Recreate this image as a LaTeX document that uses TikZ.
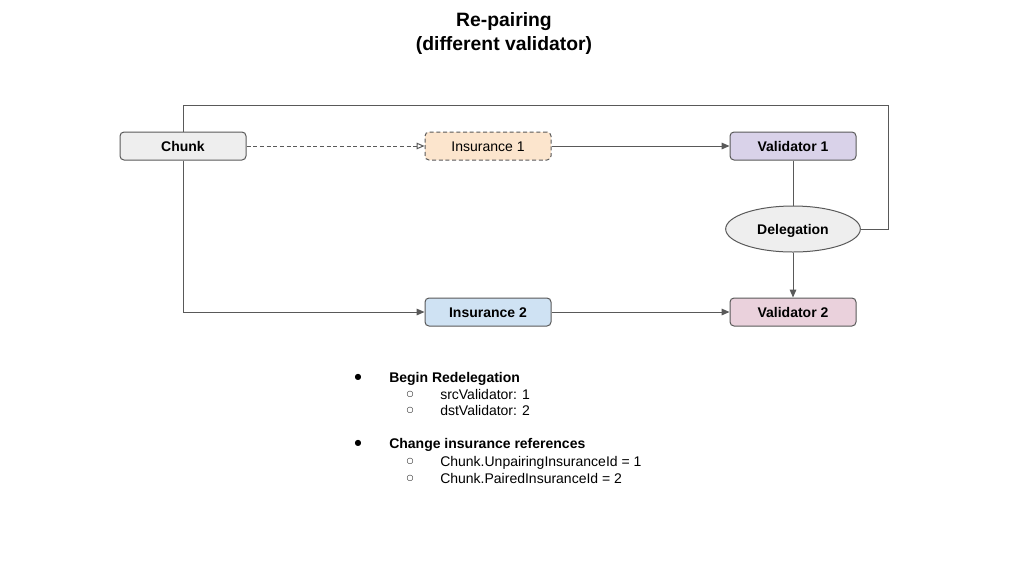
\documentclass[tikz,border=0pt]{standalone}
\usepackage{fontspec}
\setmainfont{Liberation Sans}
\newfontfamily\symfont{DejaVu Sans}
\usetikzlibrary{arrows.meta,shapes.geometric}
\definecolor{linegray}{HTML}{595959}
\definecolor{boxgray}{HTML}{EEEEEE}
\definecolor{peach}{HTML}{FCE5CD}
\definecolor{lavender}{HTML}{D9D2E9}
\definecolor{lightblue}{HTML}{CFE2F3}
\definecolor{pink}{HTML}{EAD1DC}
\tikzset{
  box/.style={draw=linegray, line width=0.75pt, rounded corners=3pt, minimum width=94.5pt, minimum height=21pt, inner sep=0pt, text height=7.5pt, text depth=0pt, font=\fontsize{10.5}{12}\selectfont},
  conn/.style={draw=linegray, line width=0.75pt},
  arr/.style={conn, -{Triangle[length=6pt,width=5pt]}},
  openarr/.style={conn, dashed, dash pattern=on 3pt off 2pt, -{Triangle[open,length=6pt,width=5pt]}},
  listtext/.style={anchor=west, inner sep=0pt, text height=7.5pt, text depth=0pt, font=\fontsize{10.5}{12}\selectfont},
  bulletmark/.style={anchor=center, inner sep=0pt, font=\symfont\fontsize{6}{7}\selectfont},
  titletext/.style={anchor=center, inner sep=0pt, text height=10.4pt, text depth=0pt, font=\bfseries\fontsize{14.5}{17}\selectfont}
}
\begin{document}
\begin{tikzpicture}[x=0.75pt,y=-0.75pt]
\useasboundingbox (0,0) rectangle (1009,565);
% title
\node[titletext] (t1) at (504,20) {Re-pairing};
\node[titletext] (t2) at (504,44) {(different validator)};
% nodes
\node[box, fill=boxgray, font=\bfseries\fontsize{10.5}{12}\selectfont] (chunk) at (183,146) {Chunk};
\node[box, fill=peach, dashed, dash pattern=on 3pt off 2pt] (ins1) at (488,146) {Insurance 1};
\node[box, fill=lavender, font=\bfseries\fontsize{10.5}{12}\selectfont] (val1) at (793,146) {Validator 1};
\node[ellipse, draw=linegray, line width=0.75pt, fill=boxgray, minimum width=101pt, minimum height=34.5pt, inner sep=0pt, text height=7.5pt, text depth=0pt, font=\bfseries\fontsize{10.5}{12}\selectfont] (deleg) at (793,229) {Delegation};
\node[box, fill=lightblue, font=\bfseries\fontsize{10.5}{12}\selectfont] (ins2) at (488,312) {Insurance 2};
\node[box, fill=pink, font=\bfseries\fontsize{10.5}{12}\selectfont] (val2) at (793,312) {Validator 2};
% connectors
\coordinate (tl) at (183,105);
\coordinate (tr) at (888,105);
\coordinate (rr) at (888,229);
\coordinate (bl) at (183,312);
\draw[openarr] (chunk) -- (ins1);
\draw[arr] (ins1) -- (val1);
\draw[conn] (val1) -- (deleg);
\draw[arr] (deleg) -- (val2);
\draw[conn] (chunk.north) -- (tl) -- (tr) -- (rr) -- (deleg.east);
\draw[arr] (chunk.south) -- (bl) -- (ins2.west);
\draw[arr] (ins2) -- (val2);
% list
\node[bulletmark] (b1) at (358,377) {●};
\node[listtext, font=\bfseries\fontsize{10.5}{12}\selectfont] (l1) at (389,377) {Begin Redelegation};
\node[bulletmark] (b11) at (410,394.5) {○};
\node[listtext] (l11) at (440,394) {srcValidator: 1};
\node[bulletmark] (b12) at (410,410.5) {○};
\node[listtext] (l12) at (440,410) {dstValidator: 2};
\node[bulletmark] (b2) at (358,443) {●};
\node[listtext, font=\bfseries\fontsize{10.5}{12}\selectfont] (l2) at (389,443) {Change insurance references};
\node[bulletmark] (b21) at (410,461.5) {○};
\node[listtext] (l21) at (440,461) {Chunk.UnpairingInsuranceId = 1};
\node[bulletmark] (b22) at (410,478.5) {○};
\node[listtext] (l22) at (440,478) {Chunk.PairedInsuranceId = 2};
\end{tikzpicture}
\end{document}
